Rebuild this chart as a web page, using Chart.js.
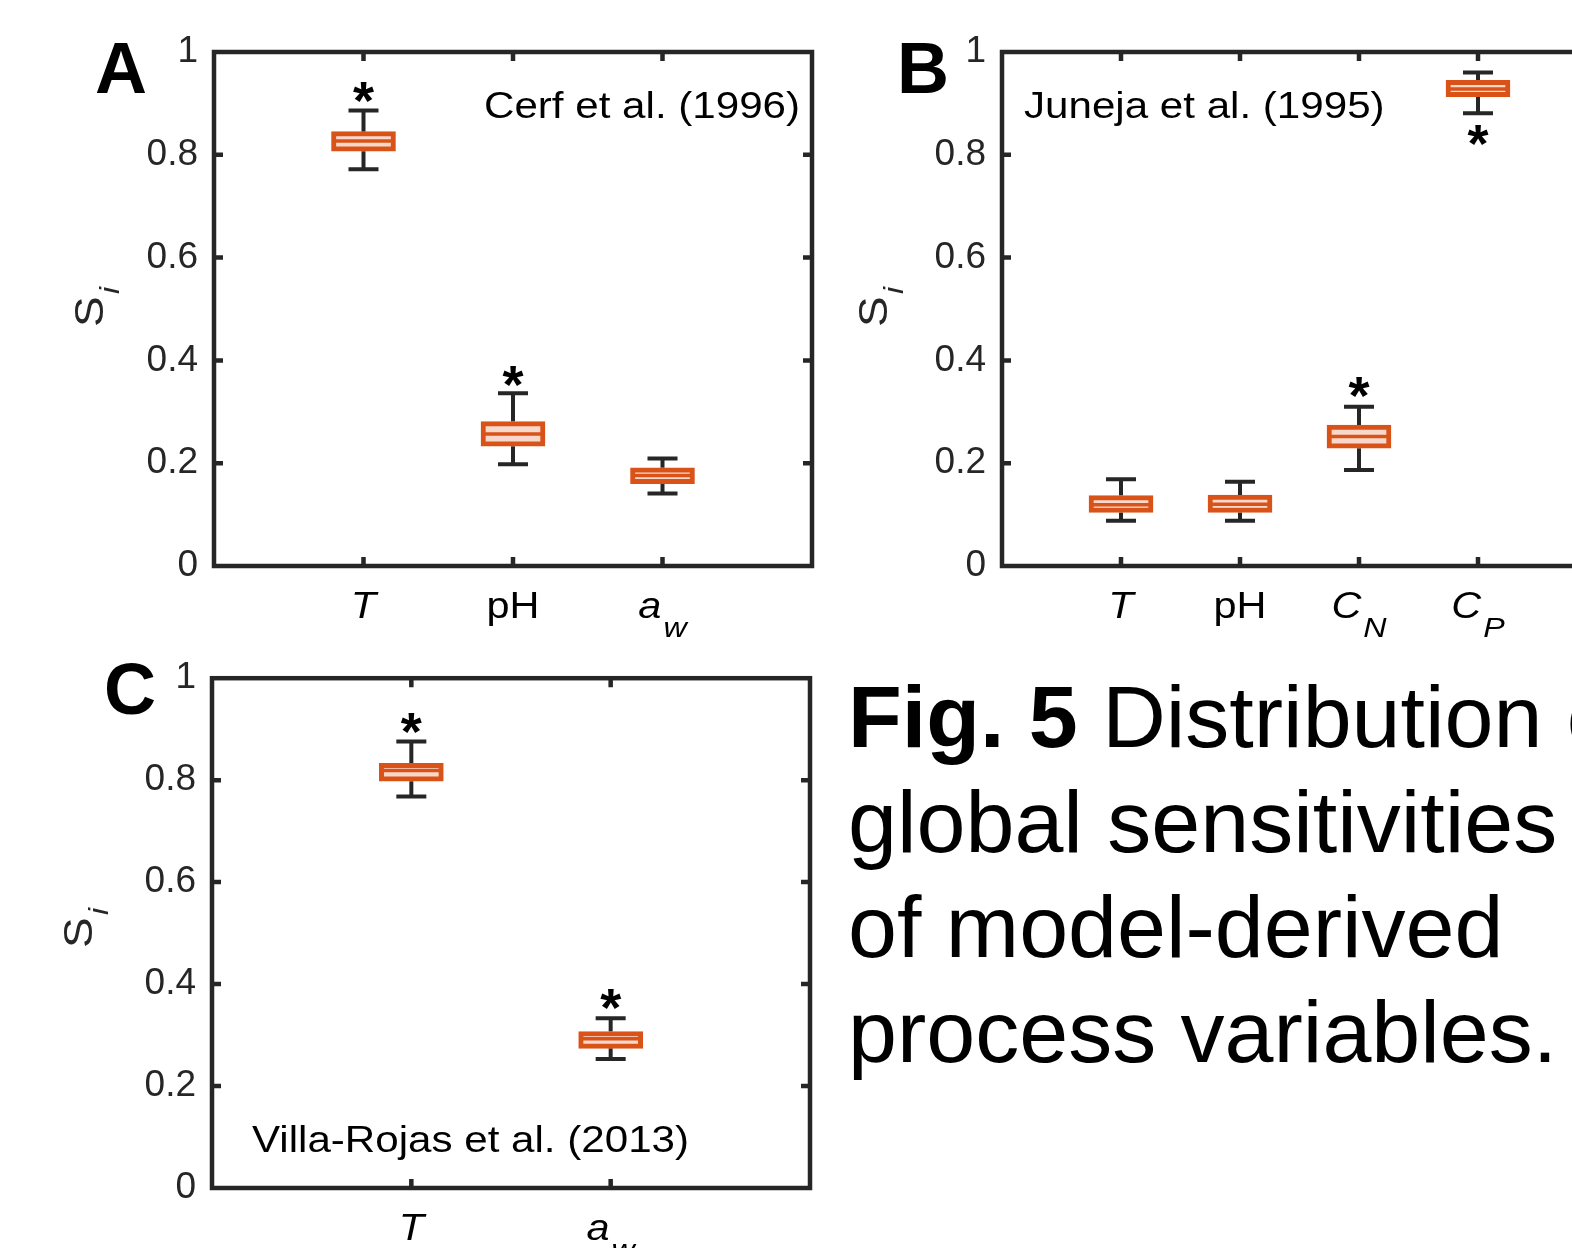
<!DOCTYPE html>
<html>
<head>
<meta charset="utf-8">
<title>Fig. 5</title>
<script src="https://cdn.jsdelivr.net/npm/chart.js@4.4.1/dist/chart.umd.min.js"></script>
<style>
  html, body { margin: 0; padding: 0; background: #fff; }
  body { width: 1572px; height: 1248px; overflow: hidden; position: relative; }
  canvas { position: absolute; }
  #chartA { left: 0; top: 0; }
  #chartB { left: 830px; top: 0; }
  #chartC { left: 0; top: 640px; }
  #caption {
    position: absolute; left: 848px; top: 664px;
    font-family: "Liberation Sans", Arial, Helvetica, sans-serif;
    font-size: 88px; line-height: 105px; color: #000; white-space: nowrap;
  }
</style>
</head>
<body>
<canvas id="chartA" width="830" height="640"></canvas>
<canvas id="chartB" width="800" height="640"></canvas>
<canvas id="chartC" width="830" height="608"></canvas>
<div id="caption"><b>Fig. 5</b> Distribution of<br>global sensitivities<br>of model-derived<br>process variables.</div>

<script>
// panel A - Cerf et al. (1996)
const labelsA = ['T', 'pH', 'a_w'];
const italicA = [true, false, true];
const whiskerLowA = [0.772, 0.198, 0.141];
const q1A = [0.807, 0.233, 0.160];
const medianA = [0.827, 0.257, 0.176];
const q3A = [0.845, 0.281, 0.191];
const whiskerHighA = [0.886, 0.336, 0.209];
const starA = [0.921, 0.368, null];

// panel B - Juneja et al. (1995)
const labelsB = ['T', 'pH', 'C_N', 'C_P'];
const italicB = [true, false, true, true];
const whiskerLowB = [0.088, 0.088, 0.187, 0.881];
const q1B = [0.104, 0.104, 0.229, 0.913];
const medianB = [0.119, 0.120, 0.252, 0.928];
const q3B = [0.137, 0.138, 0.274, 0.945];
const whiskerHighB = [0.169, 0.164, 0.310, 0.960];
const starB = [null, null, 0.348, 0.837];

// panel C - Villa-Rojas et al. (2013)
const labelsC = ['T', 'a_w'];
const italicC = [true, true];
const whiskerLowC = [0.768, 0.253];
const q1C = [0.798, 0.274];
const medianC = [0.819, 0.293];
const q3C = [0.833, 0.307];
const whiskerHighC = [0.876, 0.333];
const starC = [0.911, 0.370];

const AXIS = '#262626';
const ORANGE = '#D95319';
const PALE = 'rgb(248,216,203)';
const FONT = '"Liberation Sans", Arial, Helvetica, sans-serif';
const SX = 1.15; // the figure text is a bit wide

function drawText(ctx, text, x, y, font, sx, align) {
  ctx.save();
  ctx.font = font;
  ctx.translate(x, y);
  ctx.scale(sx, 1);
  ctx.textAlign = align || 'left';
  ctx.textBaseline = 'alphabetic';
  ctx.fillStyle = '#000';
  ctx.fillText(text, 0, 0);
  ctx.restore();
}

function textWidth(ctx, text, font, sx) {
  ctx.save();
  ctx.font = font;
  const w = ctx.measureText(text).width * sx;
  ctx.restore();
  return w;
}

// draw a glyph so that its ink is centred on (x, cy)
function drawCentred(ctx, text, x, cy, font) {
  ctx.save();
  ctx.font = font;
  const m = ctx.measureText(text);
  const base = cy + (m.actualBoundingBoxAscent - m.actualBoundingBoxDescent) / 2;
  ctx.restore();
  drawText(ctx, text, x, base, font, 1, 'center');
}

function makeExtras(p) {
  return {
    id: 'boxExtras',
    beforeDatasetsDraw(chart) {
      const ctx = chart.ctx, xs = chart.scales.x, ys = chart.scales.y;
      ctx.save();
      ctx.strokeStyle = AXIS;
      ctx.lineWidth = 4;
      p.q1.forEach((q, i) => {
        const px = xs.getPixelForValue(i + 1);
        const yHi = ys.getPixelForValue(p.hi[i]);
        const yLo = ys.getPixelForValue(p.lo[i]);
        ctx.beginPath();
        ctx.moveTo(px, ys.getPixelForValue(p.q3[i]));
        ctx.lineTo(px, yHi);
        ctx.moveTo(px - 15, yHi);
        ctx.lineTo(px + 15, yHi);
        ctx.moveTo(px, ys.getPixelForValue(q));
        ctx.lineTo(px, yLo);
        ctx.moveTo(px - 15, yLo);
        ctx.lineTo(px + 15, yLo);
        ctx.stroke();
      });
      ctx.restore();
    },
    afterDatasetsDraw(chart) {
      const ctx = chart.ctx, xs = chart.scales.x, ys = chart.scales.y;
      const bars = chart.getDatasetMeta(0).data;
      ctx.save();
      p.med.forEach((m, i) => {
        const el = bars[i + 1];
        const { x, width } = el.getProps(['x', 'width'], true);
        const py = ys.getPixelForValue(m);
        ctx.strokeStyle = ORANGE;
        ctx.lineWidth = 3.5;
        ctx.beginPath();
        ctx.moveTo(x - width / 2 + 2, py);
        ctx.lineTo(x + width / 2 - 2, py);
        ctx.stroke();
        if (p.star[i] != null) {
          drawCentred(ctx, '*', xs.getPixelForValue(i + 1), ys.getPixelForValue(p.star[i]), 'bold 54px ' + FONT);
        }
      });
      ctx.restore();
    },
    afterDraw(chart) {
      const ctx = chart.ctx, xs = chart.scales.x, ys = chart.scales.y;
      const a = chart.chartArea;
      ctx.save();
      // box frame with inward ticks
      ctx.strokeStyle = AXIS;
      ctx.lineWidth = 4.5;
      ctx.strokeRect(a.left, a.top, a.right - a.left, a.bottom - a.top);
      ctx.beginPath();
      ys.ticks.forEach(t => {
        if (t.value <= 0 || t.value >= 1) return;
        const py = ys.getPixelForValue(t.value);
        ctx.moveTo(a.left, py); ctx.lineTo(a.left + 9, py);
        ctx.moveTo(a.right, py); ctx.lineTo(a.right - 9, py);
      });
      p.labels.forEach((_, i) => {
        const px = xs.getPixelForValue(i + 1);
        ctx.moveTo(px, a.bottom); ctx.lineTo(px, a.bottom - 9);
        ctx.moveTo(px, a.top); ctx.lineTo(px, a.top + 9);
      });
      ctx.stroke();

      // x labels with subscripts
      p.labels.forEach((lab, i) => {
        const parts = lab.split('_');
        const style = p.italic[i] ? 'italic ' : '';
        const fMain = style + '36px ' + FONT;
        const fSub = style + '28px ' + FONT;
        const wMain = textWidth(ctx, parts[0], fMain, SX);
        const wSub = parts[1] ? textWidth(ctx, parts[1], fSub, SX) + 2 : 0;
        const x0 = xs.getPixelForValue(i + 1) - (wMain + wSub) / 2;
        const base = a.bottom + 52;
        drawText(ctx, parts[0], x0, base, fMain, SX);
        if (parts[1]) drawText(ctx, parts[1], x0 + wMain + 2, base + 19, fSub, SX);
      });

      // y label S_i
      ctx.save();
      ctx.translate(p.ylabX, p.ylabY);
      ctx.rotate(-Math.PI / 2);
      ctx.scale(SX, 1);
      ctx.fillStyle = AXIS;
      ctx.font = '40px ' + FONT;
      ctx.fillText('S', 0, 0);
      const ws = ctx.measureText('S').width;
      ctx.font = 'italic 28px ' + FONT;
      ctx.fillText('i', ws + 2, 16);
      ctx.restore();

      // panel letter and source
      drawText(ctx, p.letter, p.letterX, p.letterY, 'bold 72px ' + FONT, 1);
      drawText(ctx, p.note, p.noteX, p.noteY, '36px ' + FONT, 1.17);
      ctx.restore();
    }
  };
}

function makeChart(id, p, layout) {
  const cats = ['', ...p.labels, ''];
  const boxes = [null, ...p.q1.map((q, i) => [q, p.q3[i]]), null];
  return new Chart(document.getElementById(id), {
    type: 'bar',
    data: {
      labels: cats,
      datasets: [{
        data: boxes,
        backgroundColor: PALE,
        borderColor: ORANGE,
        borderWidth: 5,
        borderSkipped: false,
        barThickness: 64
      }]
    },
    options: {
      responsive: false,
      animation: false,
      devicePixelRatio: 1,
      layout: { padding: { top: layout.top, right: layout.right, left: 0, bottom: 0 } },
      plugins: { legend: { display: false }, tooltip: { enabled: false } },
      scales: {
        x: {
          type: 'category',
          offset: false,
          grid: { display: false, drawTicks: false },
          border: { display: false },
          ticks: { display: false },
          afterFit(s) { s.height = layout.xH; }
        },
        y: {
          min: 0,
          max: 1,
          ticks: {
            stepSize: 0.2,
            color: AXIS,
            font: { family: FONT, size: 37 },
            padding: 16,
            callback: v => String(Math.round(v * 10) / 10)
          },
          grid: { display: false, drawTicks: false },
          border: { display: false },
          afterFit(s) { s.width = layout.yW; }
        }
      }
    },
    plugins: [makeExtras(p)]
  });
}

makeChart('chartA', {
  labels: labelsA, italic: italicA, lo: whiskerLowA, q1: q1A, med: medianA, q3: q3A, hi: whiskerHighA, star: starA,
  letter: 'A', letterX: 95, letterY: 93,
  note: 'Cerf et al. (1996)', noteX: 484, noteY: 118,
  ylabX: 103, ylabY: 327
}, { top: 52, right: 18, xH: 74, yW: 214 });

makeChart('chartB', {
  labels: labelsB, italic: italicB, lo: whiskerLowB, q1: q1B, med: medianB, q3: q3B, hi: whiskerHighB, star: starB,
  letter: 'B', letterX: 67, letterY: 93,
  note: 'Juneja et al. (1995)', noteX: 194, noteY: 118,
  ylabX: 57, ylabY: 327
}, { top: 52, right: 33, xH: 74, yW: 172 });

makeChart('chartC', {
  labels: labelsC, italic: italicC, lo: whiskerLowC, q1: q1C, med: medianC, q3: q3C, hi: whiskerHighC, star: starC,
  letter: 'C', letterX: 104, letterY: 714 - 640,
  note: 'Villa-Rojas et al. (2013)', noteX: 252, noteY: 1152 - 640,
  ylabX: 92, ylabY: 308
}, { top: 33, right: 20, xH: 60, yW: 212 });
</script>
</body>
</html>
